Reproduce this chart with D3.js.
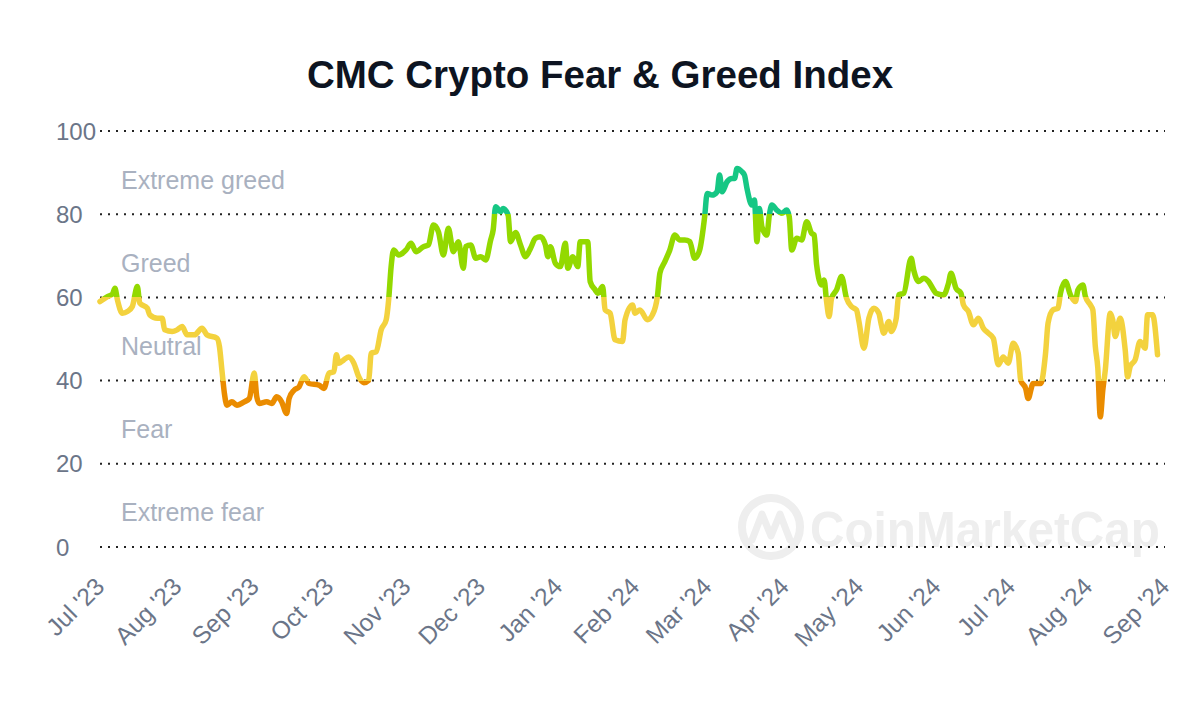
<!DOCTYPE html>
<html>
<head>
<meta charset="utf-8">
<script src="https://cdn.jsdelivr.net/npm/d3@7"></script>
<style>
  html, body { margin: 0; padding: 0; background: #ffffff; }
  svg { display: block; font-family: "Liberation Sans", Arial, Helvetica, sans-serif; }
</style>
</head>
<body>
<svg id="chart" width="1200" height="728"></svg>
<script>
// ---- Data ----
const title = "CMC Crypto Fear & Greed Index";
const startDate = "2023-07-01";
const endDate = "2024-09-01";
// days since start date
const dayOffsets = [
  0, 3, 5, 6, 7, 9, 11, 13, 15, 16, 19, 20, 23, 25, 26, 29, 31, 33, 35, 38,
  41, 43, 47, 48, 49, 50, 51, 53, 55, 58, 60, 62, 63, 64, 67, 69, 71, 73, 75, 76,
  78, 80, 82, 84, 88, 90, 92, 94, 95, 96, 98, 100, 102, 104, 106, 108, 109, 111, 113, 115,
  116, 117, 118, 120, 123, 125, 127, 130, 132, 134, 136, 138, 140, 142, 144, 146, 147, 149, 151, 153,
  155, 157, 158, 159, 161, 162, 164, 165, 167, 169, 171, 173, 175, 177, 179, 180, 181, 183, 185, 187,
  188, 190, 192, 193, 196, 197, 199, 200, 202, 203, 205, 207, 210, 211, 214, 215, 217, 220, 222, 224,
  225, 227, 229, 231, 233, 235, 237, 239, 241, 243, 244, 246, 248, 249, 250, 252, 254, 255, 256, 258,
  259, 260, 262, 263, 264, 265, 266, 268, 269, 270, 272, 274, 276, 277, 278, 280, 282, 284, 286, 287,
  288, 290, 291, 292, 293, 294, 296, 298, 300, 302, 304, 305, 307, 309, 311, 313, 314, 315, 317, 318,
  320, 321, 323, 326, 327, 329, 331, 333, 335, 336, 339, 341, 342, 344, 346, 347, 349, 351, 353, 355,
  357, 359, 361, 363, 365, 367, 369, 370, 372, 373, 375, 378, 380, 381, 383, 385, 386, 388, 390, 392,
  393, 395, 396, 398, 399, 400, 401, 402, 403, 404, 406, 407, 408, 410, 412, 413, 414, 416, 418, 420,
  421, 423, 425
];
const indexValues = [
  59.0, 60.2, 60.8, 62.2, 59.4, 56.2, 56.6, 57.8, 62.6, 58.6, 57.4, 55.8, 55.0, 55.0, 52.2, 51.8, 52.2, 53.0, 51.0, 51.0,
  52.6, 51.0, 50.2, 48.2, 42.5, 36.9, 34.1, 34.9, 34.1, 34.9, 35.7, 41.8, 36.1, 34.5, 34.9, 34.5, 36.1, 34.9, 32.1, 35.7,
  37.7, 38.5, 40.9, 39.3, 38.9, 38.1, 41.8, 42.1, 46.2, 44.2, 45.0, 45.7, 44.2, 40.9, 39.5, 40.1, 46.6, 46.9, 52.2, 54.6,
  59.4, 67.4, 71.4, 70.2, 71.4, 73.0, 71.0, 72.2, 72.6, 77.4, 75.8, 70.2, 76.6, 71.0, 73.4, 67.0, 72.2, 72.6, 69.4, 69.8,
  69.0, 73.8, 76.2, 81.8, 80.6, 81.4, 79.8, 73.4, 75.6, 72.6, 69.8, 71.8, 74.2, 74.6, 72.6, 69.8, 72.2, 68.2, 67.4, 73.0,
  67.0, 69.8, 67.4, 73.4, 73.4, 63.8, 61.8, 61.0, 62.6, 57.0, 56.2, 49.8, 49.4, 54.6, 58.2, 56.2, 57.0, 54.6, 55.8, 60.2,
  65.8, 68.6, 71.4, 75.0, 73.8, 73.8, 73.4, 69.4, 71.4, 79.4, 85.0, 84.6, 85.4, 89.4, 85.4, 87.8, 88.6, 88.6, 91.0, 90.2,
  89.4, 86.2, 82.2, 83.4, 73.4, 81.4, 77.0, 75.0, 79.8, 82.2, 81.0, 80.2, 81.0, 79.4, 71.4, 74.2, 73.8, 78.2, 75.4, 75.0,
  67.8, 63.0, 64.2, 59.0, 55.4, 59.8, 61.8, 65.0, 59.8, 57.8, 57.0, 54.2, 47.8, 55.0, 57.4, 56.2, 53.4, 51.4, 54.2, 51.8,
  55.0, 60.6, 61.0, 69.4, 66.6, 63.8, 64.6, 63.8, 61.8, 61.0, 60.6, 63.4, 65.8, 62.2, 61.0, 58.2, 56.6, 53.4, 55.0, 52.6,
  51.4, 50.2, 43.8, 45.7, 44.2, 49.0, 46.6, 40.1, 38.1, 35.7, 39.3, 39.3, 46.6, 53.8, 57.0, 57.4, 61.0, 63.8, 60.6, 59.0,
  61.8, 63.0, 60.2, 58.2, 57.0, 48.2, 43.0, 31.3, 37.7, 42.5, 56.2, 54.6, 50.6, 55.0, 47.4, 40.9, 43.4, 45.0, 49.4, 47.8,
  55.8, 55.8, 46.2
];
const yTicks = [0, 20, 40, 60, 80, 100];
const xTickLabels = ["Jul '23", "Aug '23", "Sep '23", "Oct '23", "Nov '23", "Dec '23", "Jan '24",
  "Feb '24", "Mar '24", "Apr '24", "May '24", "Jun '24", "Jul '24", "Aug '24", "Sep '24"];
const zoneNames = ["Extreme fear", "Fear", "Neutral", "Greed", "Extreme greed"];
const zoneBounds = [0, 20, 40, 60, 80, 100];
const zoneColors = ["#EA3943", "#EA8C00", "#F3D23E", "#93D900", "#16C784"];
const watermarkText = "CoinMarketCap";

// ---- Layout ----
const svg = d3.select("#chart");
const parse = d3.timeParse("%Y-%m-%d");
const t0 = parse(startDate), t1 = parse(endDate);
const data = dayOffsets.map((d, i) => ({ date: d3.timeDay.offset(t0, d), value: indexValues[i] }));

const x = d3.scaleTime().domain([t0, t1]).range([100, 1165]);
const y = d3.scaleLinear().domain([0, 100]).range([547, 131]);

// Title
svg.append("text")
  .attr("x", 600).attr("y", 88)
  .attr("text-anchor", "middle")
  .attr("font-size", 38.5).attr("font-weight", "bold")
  .attr("fill", "#0d1421")
  .text(title);

// Watermark
const wm = svg.append("g");
wm.append("circle").attr("cx", 771).attr("cy", 527).attr("r", 29)
  .attr("fill", "none").attr("stroke", "#eeeeee").attr("stroke-width", 8);
wm.append("path")
  .attr("d", "M752,540 L762,514 L771,536 L780,514 L790,540")
  .attr("fill", "none").attr("stroke", "#eeeeee").attr("stroke-width", 7)
  .attr("stroke-linejoin", "round").attr("stroke-linecap", "round");
wm.append("text").attr("x", 810).attr("y", 547)
  .attr("font-size", 50).attr("font-weight", "bold")
  .attr("fill", "#eeeeee")
  .attr("textLength", 350).attr("lengthAdjust", "spacingAndGlyphs")
  .text(watermarkText);

// Grid lines
svg.append("g").selectAll("line").data(yTicks).join("line")
  .attr("x1", 100).attr("x2", 1165)
  .attr("y1", d => y(d)).attr("y2", d => y(d))
  .attr("stroke", "#222").attr("stroke-width", 2)
  .attr("stroke-dasharray", "2,6");

// Y tick labels
svg.append("g").selectAll("text").data(yTicks).join("text")
  .attr("x", 56).attr("y", d => y(d))
  .attr("dy", "0.36em")
  .attr("font-size", 24).attr("fill", "#6b7588")
  .text(d => d);

// Zone labels
svg.append("g").selectAll("text").data(zoneNames).join("text")
  .attr("x", 121)
  .attr("y", (d, i) => y((zoneBounds[i] + zoneBounds[i + 1]) / 2) + 7)
  .attr("dy", "0.36em")
  .attr("font-size", 25).attr("fill", "#a9b1c0")
  .text(d => d);

// X axis labels
const months = d3.timeMonth.range(t0, d3.timeDay.offset(t1, 1));
svg.append("g").selectAll("text").data(months).join("text")
  .attr("transform", d => `translate(${x(d) + 6},${588}) rotate(-45)`)
  .attr("text-anchor", "end")
  .attr("font-size", 24.5).attr("fill", "#6b7588")
  .text((d, i) => xTickLabels[i]);

// Gradient by zone
const defs = svg.append("defs");
const grad = defs.append("linearGradient")
  .attr("id", "zoneGrad")
  .attr("gradientUnits", "userSpaceOnUse")
  .attr("x1", 0).attr("x2", 0)
  .attr("y1", y(0)).attr("y2", y(100));
zoneColors.forEach((c, i) => {
  grad.append("stop").attr("offset", zoneBounds[i] / 100).attr("stop-color", c);
  grad.append("stop").attr("offset", zoneBounds[i + 1] / 100).attr("stop-color", c);
});

// Line
const line = d3.line()
  .x(d => x(d.date))
  .y(d => y(d.value))
  .curve(d3.curveMonotoneX);

svg.append("path")
  .datum(data)
  .attr("d", line)
  .attr("fill", "none")
  .attr("stroke", "url(#zoneGrad)")
  .attr("stroke-width", 5.5)
  .attr("stroke-linejoin", "round")
  .attr("stroke-linecap", "round");
</script>
</body>
</html>
